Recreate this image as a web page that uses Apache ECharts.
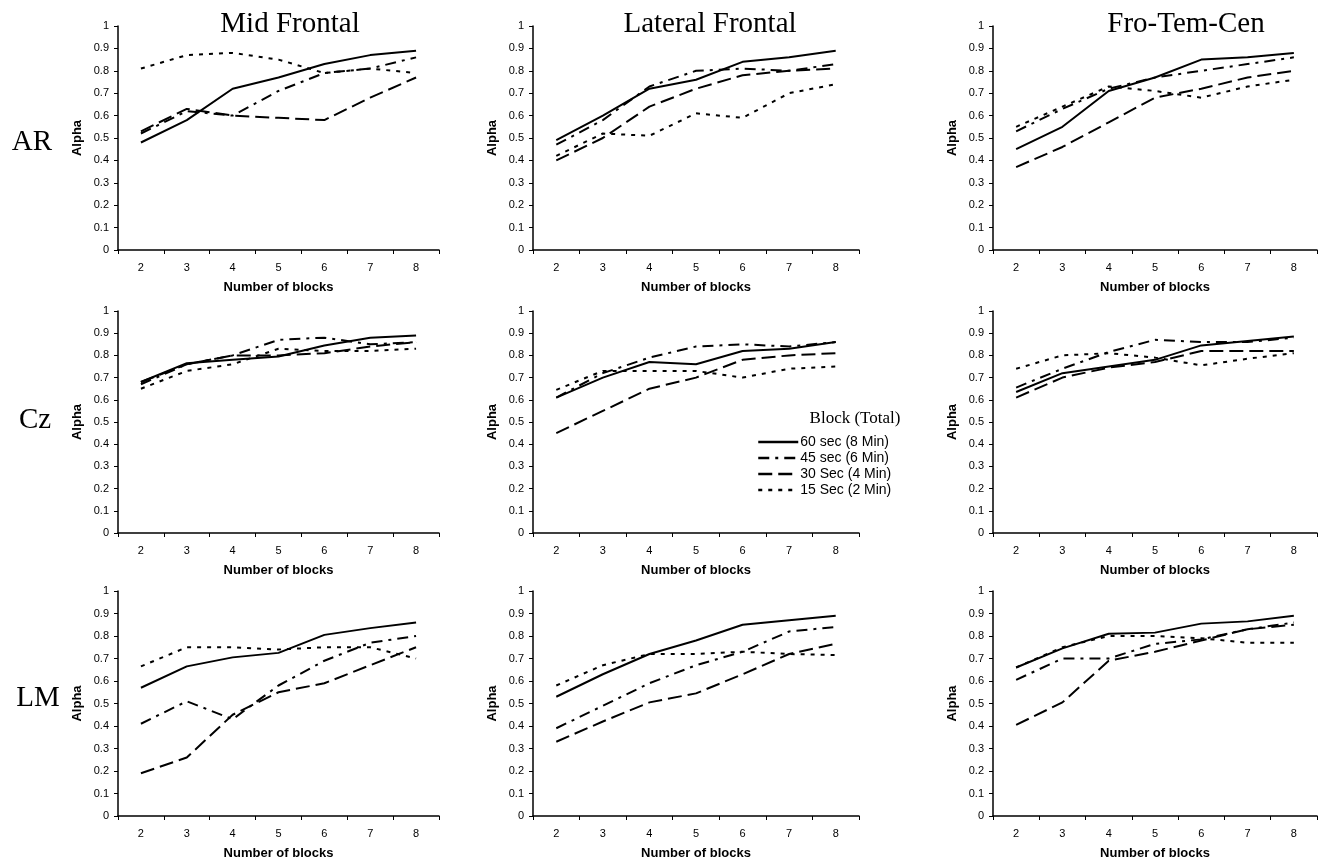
<!DOCTYPE html>
<html>
<head>
<meta charset="utf-8">
<title>Alpha by number of blocks</title>
<script src="https://cdn.jsdelivr.net/npm/echarts@6/dist/echarts.min.js"></script>
<style>
  html, body { margin: 0; padding: 0; background: #fff; }
  #chart { width: 1318px; height: 862px; }
</style>
</head>
<body>
<div id="chart"></div>
<script>
const blocks = ["2", "3", "4", "5", "6", "7", "8"];
const seriesNames = ["60 sec (8 Min)", "45 sec (6 Min)", "30 Sec (4 Min)", "15 Sec (2 Min)"];
const columnTitles = ["Mid Frontal", "Lateral Frontal", "Fro-Tem-Cen"];
const rowTitles = ["AR", "Cz", "LM"];

// each panel: [60 sec, 45 sec, 30 sec, 15 sec]
const arMid = [
  [0.48, 0.58, 0.72, 0.77, 0.83, 0.87, 0.89],
  [0.52, 0.62, 0.60, 0.71, 0.79, 0.81, 0.86],
  [0.53, 0.63, 0.60, 0.59, 0.58, 0.68, 0.77],
  [0.81, 0.87, 0.88, 0.85, 0.79, 0.81, 0.79],
];
const arLat = [
  [0.49, 0.60, 0.72, 0.76, 0.84, 0.86, 0.89],
  [0.47, 0.58, 0.73, 0.80, 0.81, 0.80, 0.83],
  [0.40, 0.50, 0.64, 0.72, 0.78, 0.80, 0.81],
  [0.42, 0.52, 0.51, 0.61, 0.59, 0.70, 0.74],
];
const arFtc = [
  [0.45, 0.55, 0.71, 0.77, 0.85, 0.86, 0.88],
  [0.53, 0.63, 0.72, 0.77, 0.80, 0.83, 0.86],
  [0.37, 0.46, 0.57, 0.68, 0.72, 0.77, 0.80],
  [0.55, 0.64, 0.73, 0.71, 0.68, 0.73, 0.76],
];
const czMid = [
  [0.68, 0.765, 0.78, 0.795, 0.845, 0.88, 0.89],
  [0.67, 0.76, 0.80, 0.87, 0.88, 0.85, 0.86],
  [0.68, 0.76, 0.80, 0.80, 0.81, 0.84, 0.86],
  [0.65, 0.73, 0.76, 0.83, 0.82, 0.82, 0.83],
];
const czLat = [
  [0.61, 0.70, 0.77, 0.76, 0.82, 0.83, 0.86],
  [0.61, 0.72, 0.79, 0.84, 0.85, 0.84, 0.86],
  [0.45, 0.55, 0.65, 0.70, 0.78, 0.80, 0.81],
  [0.645, 0.73, 0.73, 0.73, 0.70, 0.74, 0.75],
];
const czFtc = [
  [0.635, 0.72, 0.75, 0.78, 0.845, 0.865, 0.885],
  [0.655, 0.74, 0.815, 0.87, 0.86, 0.86, 0.88],
  [0.61, 0.70, 0.745, 0.77, 0.82, 0.82, 0.82],
  [0.74, 0.80, 0.81, 0.79, 0.755, 0.785, 0.81],
];
const lmMid = [
  [0.57, 0.665, 0.705, 0.725, 0.805, 0.835, 0.86],
  [0.41, 0.51, 0.43, 0.58, 0.69, 0.77, 0.80],
  [0.19, 0.26, 0.45, 0.55, 0.59, 0.67, 0.75],
  [0.665, 0.75, 0.75, 0.74, 0.75, 0.75, 0.70],
];
const lmLat = [
  [0.53, 0.63, 0.72, 0.78, 0.85, 0.87, 0.89],
  [0.39, 0.49, 0.59, 0.67, 0.73, 0.82, 0.84],
  [0.33, 0.42, 0.505, 0.545, 0.63, 0.72, 0.765],
  [0.58, 0.67, 0.72, 0.72, 0.73, 0.72, 0.715],
];
const lmFtc = [
  [0.66, 0.745, 0.81, 0.815, 0.855, 0.865, 0.89],
  [0.605, 0.70, 0.70, 0.765, 0.785, 0.83, 0.86],
  [0.405, 0.505, 0.69, 0.73, 0.78, 0.83, 0.85],
  [0.66, 0.75, 0.80, 0.80, 0.79, 0.77, 0.77],
];

const panels = [
  [arMid, arLat, arFtc],
  [czMid, czLat, czFtc],
  [lmMid, lmLat, lmFtc],
];

// layout of the 3x3 grid
const colLeft = [118, 533, 993];
const colWidth = [321, 326, 324];
const rowTop = [26, 311, 591];
const rowHeight = [224, 222, 225];
const dashes = ["solid", [11, 6, 3, 6], [14, 6], [4, 6]];

const sans = "'Liberation Sans', Arial, sans-serif";
const serif = "'Liberation Serif', 'Times New Roman', serif";

const chart = echarts.init(document.getElementById("chart"));

const grids = [], xAxes = [], yAxes = [], series = [];
panels.forEach((row, r) => {
  row.forEach((panel, c) => {
    const idx = grids.length;
    grids.push({ left: colLeft[c], top: rowTop[r], width: colWidth[c], height: rowHeight[r] });
    xAxes.push({
      gridIndex: idx,
      type: "category",
      data: blocks,
      boundaryGap: true,
      name: "Number of blocks",
      nameLocation: "middle",
      nameGap: 31,
      nameTextStyle: { fontFamily: sans, fontWeight: "bold", fontSize: 13, color: "#000" },
      axisLine: { lineStyle: { color: "#000", width: 1.5 } },
      axisTick: { show: true, length: 4, lineStyle: { color: "#000" } },
      axisLabel: { fontFamily: sans, fontSize: 11, color: "#000", margin: 12 },
      splitLine: { show: false },
    });
    yAxes.push({
      gridIndex: idx,
      type: "value",
      min: 0,
      max: 1,
      interval: 0.1,
      name: "Alpha",
      nameLocation: "middle",
      nameGap: 34,
      nameTextStyle: { fontFamily: sans, fontWeight: "bold", fontSize: 13, color: "#000" },
      axisLine: { show: true, lineStyle: { color: "#000", width: 1.5 } },
      axisTick: { show: true, length: 4, lineStyle: { color: "#000" } },
      axisLabel: { fontFamily: sans, fontSize: 11, color: "#000", margin: 9 },
      splitLine: { show: false },
    });
    panel.forEach((values, s) => {
      series.push({
        name: seriesNames[s],
        type: "line",
        xAxisIndex: idx,
        yAxisIndex: idx,
        data: values,
        symbol: "none",
        silent: true,
        color: "#000",
        lineStyle: { color: "#000", width: 2, type: dashes[s] },
      });
    });
  });
});

const graphics = [];
columnTitles.forEach((t, c) => {
  graphics.push({
    type: "text",
    x: [290, 710, 1186][c],
    y: 24,
    style: { text: t, font: "29px " + serif, fill: "#000", textAlign: "center", textVerticalAlign: "middle" },
  });
});
rowTitles.forEach((t, r) => {
  graphics.push({
    type: "text",
    x: [32, 35, 38][r],
    y: [142, 420, 698][r],
    style: { text: t, font: "29px " + serif, fill: "#000", textAlign: "center", textVerticalAlign: "middle" },
  });
});
graphics.push({
  type: "text",
  x: 855,
  y: 419,
  style: { text: "Block (Total)", font: "17px " + serif, fill: "#000", textAlign: "center", textVerticalAlign: "middle" },
});

chart.setOption({
  backgroundColor: "#fff",
  animation: false,
  grid: grids,
  xAxis: xAxes,
  yAxis: yAxes,
  series: series,
  graphic: graphics,
  legend: {
    data: seriesNames,
    orient: "vertical",
    left: 757,
    top: 435,
    padding: 0,
    itemWidth: 40,
    itemHeight: 14,
    itemGap: 2,
    itemStyle: { opacity: 0 },
    lineStyle: { width: 2.5 },
    textStyle: { fontFamily: sans, fontSize: 14, lineHeight: 14, color: "#000", padding: [0, 0, 0, -3] },
    selectedMode: false,
  },
});
</script>
</body>
</html>
